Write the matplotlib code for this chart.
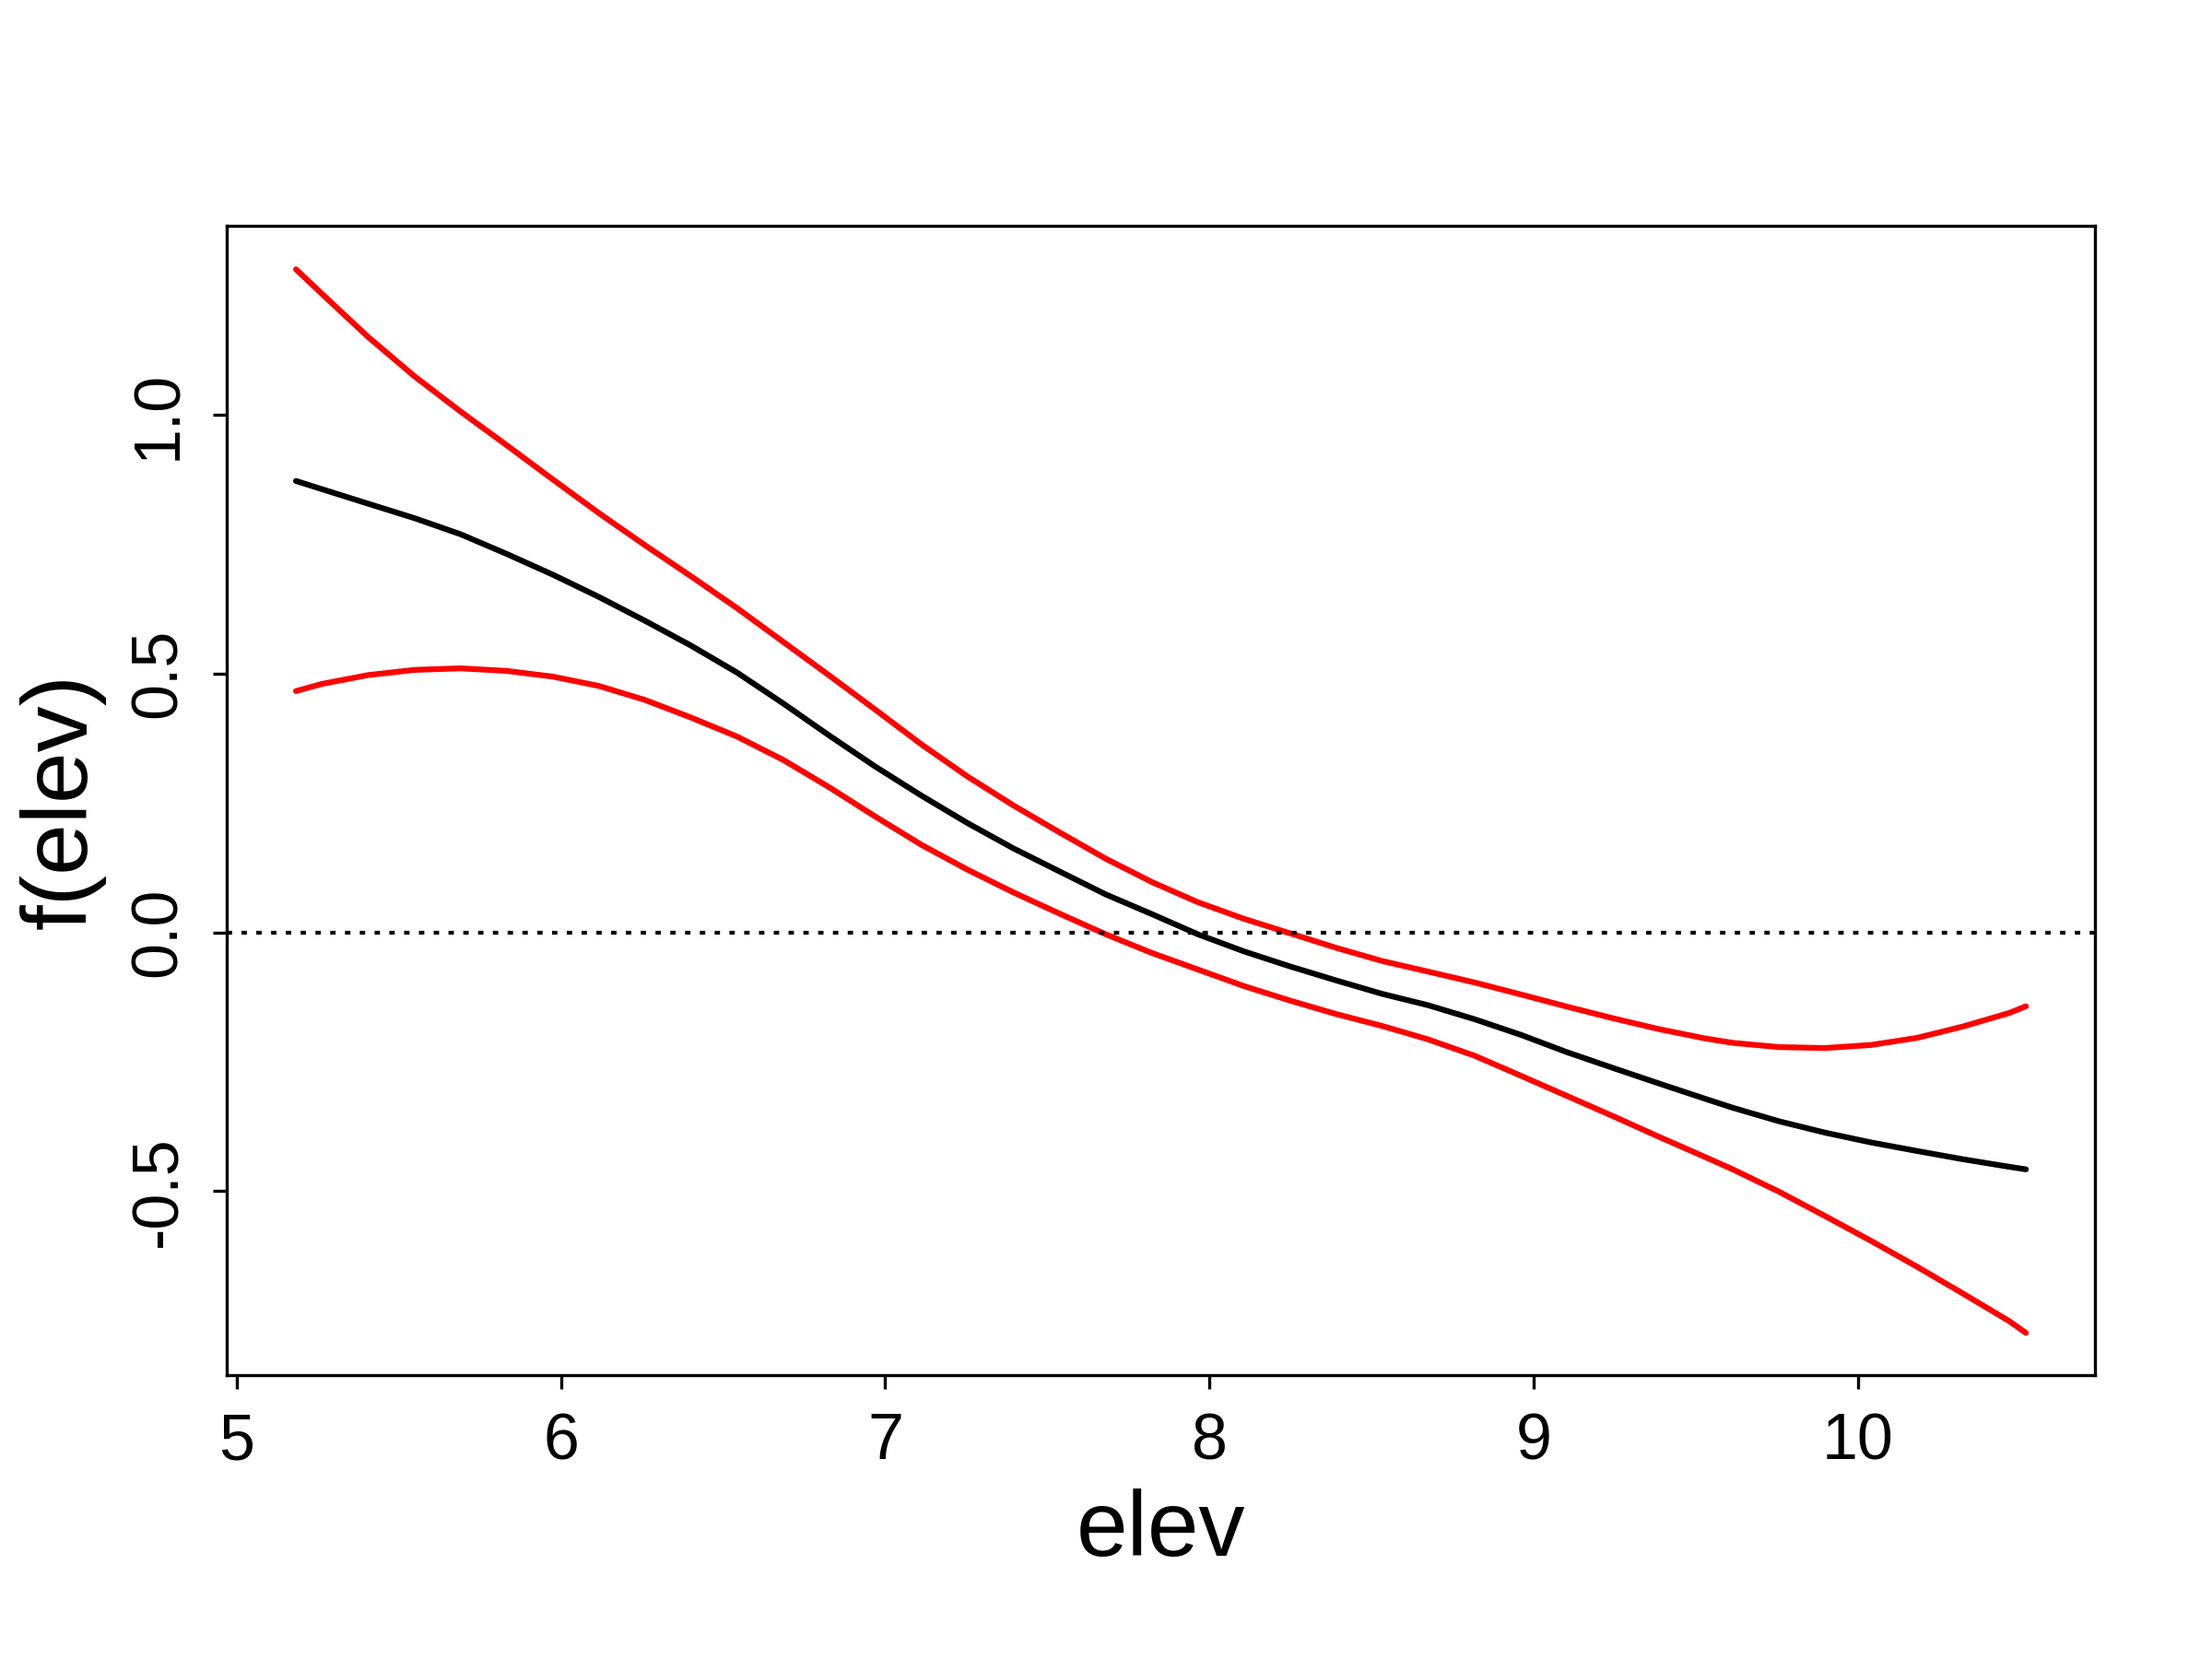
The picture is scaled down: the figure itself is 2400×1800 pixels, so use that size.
import numpy as np
import matplotlib
matplotlib.use("Agg")
import matplotlib.pyplot as plt

# values
elev = [5.183, 5.264, 5.406, 5.549, 5.691, 5.833, 5.975, 6.117, 6.259, 6.401,
        6.544, 6.686, 6.828, 6.970, 7.112, 7.254, 7.396, 7.538, 7.681, 7.823,
        7.965, 8.107, 8.249, 8.391, 8.533, 8.675, 8.818, 8.960, 9.102, 9.244,
        9.386, 9.528, 9.614, 9.756, 9.898, 10.040, 10.182, 10.324, 10.466, 10.518]
fit = [0.872, 0.856, 0.828, 0.800, 0.769, 0.731, 0.691, 0.648, 0.602, 0.554,
       0.5015, 0.442, 0.380, 0.320, 0.264, 0.211, 0.162, 0.1175, 0.073, 0.035,
       -0.004, -0.037, -0.066, -0.093, -0.119, -0.141, -0.168, -0.198, -0.2315, -0.262,
       -0.292, -0.3215, -0.339, -0.365, -0.387, -0.406, -0.4225, -0.4385, -0.453, -0.458]
upper = [1.281, 1.233, 1.150, 1.074, 1.006, 0.941, 0.875, 0.810, 0.748, 0.688,
         0.626, 0.561, 0.496, 0.430, 0.363, 0.301, 0.245, 0.193, 0.142, 0.097,
         0.058, 0.026, -0.002, -0.030, -0.0555, -0.076, -0.097, -0.120, -0.1435, -0.166,
         -0.187, -0.205, -0.2136, -0.2218, -0.2236, -0.2177, -0.204, -0.182, -0.156, -0.143]
lower = [0.466, 0.480, 0.497, 0.507, 0.510, 0.505, 0.494, 0.476, 0.449, 0.415,
         0.378, 0.333, 0.280, 0.2235, 0.169, 0.121, 0.077, 0.036, -0.004, -0.040,
         -0.072, -0.104, -0.132, -0.158, -0.181, -0.207, -0.2385, -0.277, -0.316, -0.355,
         -0.395, -0.434, -0.458, -0.501, -0.548, -0.596, -0.646, -0.698, -0.751, -0.774]

x_ticks = [5, 6, 7, 8, 9, 10]
y_ticks = [-0.5, 0.0, 0.5, 1.0]
y_ticklabels = ["-0.5", "0.0", "0.5", "1.0"]

plt.rcParams['font.family'] = ['Liberation Sans', 'DejaVu Sans']

fig = plt.figure(figsize=(8, 6), dpi=300)
ax = fig.add_axes([0.1025, 0.1711, 0.8446, 0.6928])

line_kw = dict(linewidth=1.5, solid_capstyle='round', solid_joinstyle='round')
ax.plot(elev, fit, color='black', **line_kw)
ax.plot(elev, upper, color='red', **line_kw)
ax.plot(elev, lower, color='red', **line_kw)
ax.axhline(0, color='black', linewidth=1.0, dashes=(1.4, 2.45))

ax.set_xlim(4.9695, 10.731)
ax.set_ylim(-0.8556, 1.365)

ax.set_xticks(x_ticks)
ax.set_yticks(y_ticks)
ax.set_yticklabels(y_ticklabels)
ax.tick_params(direction='out', length=3.6, width=0.8, labelsize=16.8, pad=6)
plt.setp(ax.get_yticklabels(), rotation=90, va='center')

for s in ax.spines.values():
    s.set_linewidth(0.8)

ax.set_xlabel("elev", fontsize=24, labelpad=4)
ax.set_ylabel("f(elev)", fontsize=24, labelpad=6)

fig.savefig("out.png", dpi=300)
